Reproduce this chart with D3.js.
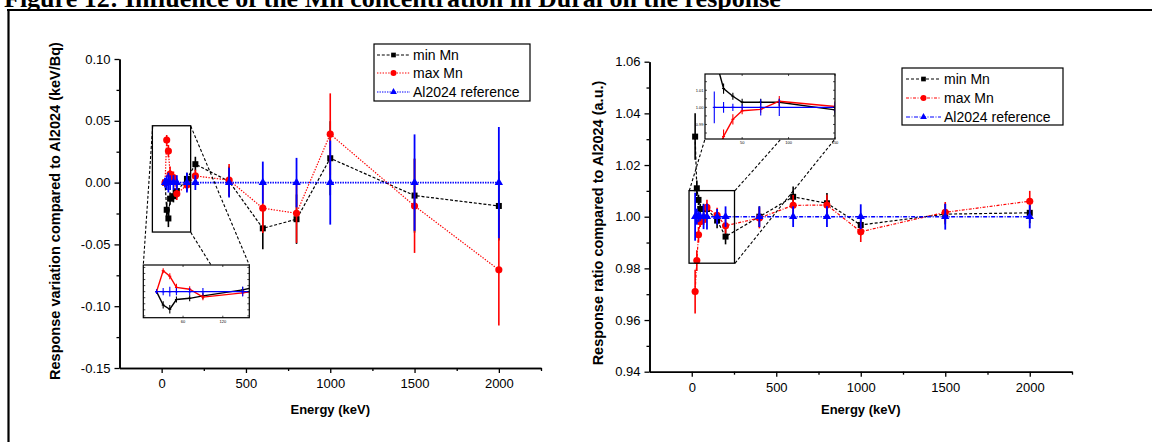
<!DOCTYPE html>
<html><head><meta charset="utf-8">
<script src="https://cdn.jsdelivr.net/npm/d3@7"></script>
<style>
body{margin:0;background:#fff}
svg{display:block}
text{font-family:Arial,"Liberation Sans",sans-serif;fill:#000}
</style>
</head><body>
<svg id="c" width="1152" height="442"></svg>
<script>
// ---------------- data ----------------
const energyKeV = [20,30,40,50,70,90,150,200,400,600,800,1000,1500,2000];
const seriesNames = ["min Mn","max Mn","Al2024 reference"];

const variationMinMn    = [0.000,-0.022,-0.029,-0.013,-0.011,-0.007,0.003,0.0149,0.001,-0.037,-0.0296,0.0197,-0.0105,-0.0189];
const variationMinMnErr = [0.003,0.006,0.007,0.005,0.005,0.005,0.005,0.006,0.012,0.017,0.020,0.030,0.030,0.028];
const variationMaxMn    = [0.000,0.0345,0.0255,0.007,0.004,-0.009,-0.002,0.0054,0.002,-0.0207,-0.0248,0.0392,-0.0189,-0.0706];
const variationMaxMnErr = [0.003,0.004,0.005,0.006,0.005,0.005,0.005,0.005,0.013,0.020,0.024,0.033,0.038,0.045];
const variationRef      = [0,0,0,0,0,0,0,0,0,0,0,0,0,0];
const variationRefErr   = [0.004,0.006,0.008,0.006,0.006,0.006,0.008,0.006,0.012,0.017,0.020,0.034,0.039,0.045];

const ratioMinMn    = [1.031,1.011,1.0065,1.003,1.003,1.003,0.9985,0.9923,1.000,1.0077,1.0052,0.9968,1.001,1.0015];
const ratioMinMnErr = [0.009,0.003,0.002,0.002,0.002,0.002,0.003,0.003,0.004,0.004,0.004,0.004,0.004,0.004];
const ratioMaxMn    = [0.971,0.983,0.993,0.998,0.9988,1.0036,1.0005,0.9965,0.9995,1.0044,1.0045,0.9942,1.0017,1.006];
const ratioMaxMnErr = [0.0085,0.004,0.003,0.002,0.002,0.003,0.003,0.003,0.004,0.004,0.004,0.004,0.004,0.004];
const ratioRef      = [1,1,1,1,1,1,1,1,1,1,1,1,1,1];
const ratioRefErr   = [0.0093,0.0031,0.0021,0.0016,0.0048,0.005,0.003,0.004,0.004,0.004,0.004,0.0048,0.005,0.0045];

const xTicks = [0,500,1000,1500,2000];
const xMinorTicks = [250,750,1250,1750,2250];
const variationTicks = [-0.15,-0.10,-0.05,0.00,0.05,0.10];
const variationMinorTicks = [-0.125,-0.075,-0.025,0.025,0.075];
const ratioTicks = [0.94,0.96,0.98,1.00,1.02,1.04,1.06];
const ratioMinorTicks = [0.95,0.97,0.99,1.01,1.03,1.05];
const leftInsetXTicks = [60,120];
const rightInsetXTicks = [50,100,150];
const rightInsetYTicks = [0.99,1.00,1.01];

const titleText = "Figure 12: Influence of the Mn concentration in Dural on the response";
const xLabel = "Energy (keV)";
const yLabelLeft = "Response variation compared to Al2024 (keV/Bq)";
const yLabelRight = "Response ratio compared to Al2024 (a.u.)";

// ---------------- drawing ----------------
const svg = d3.select("#c");
const colors = ["#000000","#ff0000","#0000ff"];
const symbols = [d3.symbolSquare, d3.symbolCircle, d3.symbolTriangle];

// title and page frame
svg.append("defs").append("clipPath").attr("id","titleclip")
  .append("rect").attr("x",0).attr("y",0).attr("width",1152).attr("height",9);
svg.append("text").attr("x",4).attr("y",7).attr("clip-path","url(#titleclip)")
  .style("font-family","'Liberation Serif','Times New Roman',serif").style("font-weight","bold")
  .style("font-size","26px").text(titleText);
svg.append("line").attr("x1",7).attr("x2",1152).attr("y1",10).attr("y2",10).attr("stroke","#000").attr("stroke-width",2.2);
svg.append("line").attr("x1",8.5).attr("x2",8.5).attr("y1",9).attr("y2",442).attr("stroke","#000").attr("stroke-width",2.2);

function drawPanel(o) {
  const g = svg.append("g");
  const x = d3.scaleLinear().domain([-250,2250]).range(o.xr);
  const y = d3.scaleLinear().domain(o.yd).range(o.yr);

  // axes
  const bottom = g.append("g").attr("transform",`translate(0,${o.yr[0]})`);
  bottom.call(d3.axisBottom(x).tickValues(xTicks).tickSize(5).tickSizeOuter(0).tickPadding(6).tickFormat(d=>String(d)));
  bottom.append("g").call(d3.axisBottom(x).tickValues(xMinorTicks).tickSize(3).tickSizeOuter(0).tickFormat(""));
  const left = g.append("g").attr("transform",`translate(${o.xr[0]},0)`);
  left.call(d3.axisLeft(y).tickValues(o.yTicks).tickSize(5).tickSizeOuter(0).tickPadding(4).tickFormat(d=>d.toFixed(2)));
  left.append("g").call(d3.axisLeft(y).tickValues(o.yMinor).tickSize(3).tickSizeOuter(0).tickFormat(""));
  g.selectAll(".domain").attr("stroke","#000").attr("stroke-width",1.6);
  g.selectAll(".tick line").attr("stroke","#000").attr("stroke-width",1.3);
  g.selectAll(".tick text").style("font-size","13px").style("font-family","Arial,'Liberation Sans',sans-serif").attr("fill","#000");

  // axis titles
  g.append("text").attr("x",(o.xr[0]+o.xr[1])/2).attr("y",414).attr("text-anchor","middle")
    .style("font-weight","bold").style("font-size","13px").text(xLabel);
  g.append("text").attr("transform",`translate(${o.ylx},${o.yly}) rotate(-90)`).attr("text-anchor","middle")
    .style("font-weight","bold").style("font-size","14.5px").text(o.ylabel);

  // series
  const series = o.series;
  series.forEach((s,i)=>{
    const pts = energyKeV.map((e,k)=>({e, v:s.v[k], err:s.err[k]}));
    g.append("path").datum(pts)
      .attr("d", d3.line().x(d=>x(d.e)).y(d=>y(d.v)))
      .attr("fill","none").attr("stroke",colors[i]).attr("stroke-width",i===2?1.6:1.2)
      .attr("stroke-dasharray",o.dashes[i]);
    g.append("g").selectAll("line").data(pts).join("line")
      .attr("x1",d=>x(d.e)).attr("x2",d=>x(d.e))
      .attr("y1",d=>y(d.v-d.err)).attr("y2",d=>y(d.v+d.err))
      .attr("stroke",colors[i]).attr("stroke-width",i===2?1.8:1.6);
    g.append("g").selectAll("path").data(pts).join("path")
      .attr("transform",d=>`translate(${x(d.e)},${y(d.v)})`)
      .attr("d", d3.symbol().type(symbols[i]).size([36,40,30][i]))
      .attr("fill",colors[i]);
  });

  // zoom box
  const zb = o.zoomBox;
  g.append("rect").attr("x",x(zb.x0)).attr("y",y(zb.y1))
    .attr("width",x(zb.x1)-x(zb.x0)).attr("height",y(zb.y0)-y(zb.y1))
    .attr("fill","none").attr("stroke","#000").attr("stroke-width",1.3);

  // inset
  const ins = o.inset;
  const ix = d3.scaleLinear().domain(ins.xd).range([ins.x0, ins.x1]);
  const iy = d3.scaleLinear().domain(ins.yd).range([ins.y1, ins.y0]);
  ins.connectors.forEach(c=>{
    g.append("line").attr("x1",c[0]).attr("y1",c[1]).attr("x2",c[2]).attr("y2",c[3])
      .attr("stroke","#000").attr("stroke-width",1.1).attr("stroke-dasharray","3,2");
  });
  g.append("rect").attr("x",ins.x0).attr("y",ins.y0).attr("width",ins.x1-ins.x0).attr("height",ins.y1-ins.y0)
    .attr("fill","#fff");
  const cid = "clip"+o.id;
  svg.select("defs").append("clipPath").attr("id",cid).append("rect")
    .attr("x",ins.x0).attr("y",ins.y0).attr("width",ins.x1-ins.x0).attr("height",ins.y1-ins.y0);
  const ig = g.append("g").attr("clip-path",`url(#${cid})`);
  series.forEach((s,i)=>{
    const pts = energyKeV.map((e,k)=>({e, v:s.v[k], err:s.err[k]}));
    ig.append("path").datum(pts)
      .attr("d", d3.line().x(d=>ix(d.e)).y(d=>iy(d.v)))
      .attr("fill","none").attr("stroke",colors[i]).attr("stroke-width",1.4);
    ig.append("g").selectAll("line").data(pts).join("line")
      .attr("x1",d=>ix(d.e)).attr("x2",d=>ix(d.e))
      .attr("y1",d=>iy(d.v-d.err)).attr("y2",d=>iy(d.v+d.err))
      .attr("stroke",colors[i]).attr("stroke-width",1.1);
    ig.append("g").selectAll("line").data(pts).join("line")
      .attr("x1",d=>ix(d.e)-1.5).attr("x2",d=>ix(d.e)+1.5)
      .attr("y1",d=>iy(d.v)).attr("y2",d=>iy(d.v))
      .attr("stroke",colors[i]).attr("stroke-width",1.1);
  });
  g.append("rect").attr("x",ins.x0).attr("y",ins.y0).attr("width",ins.x1-ins.x0).attr("height",ins.y1-ins.y0)
    .attr("fill","none").attr("stroke","#000").attr("stroke-width",1.2);
  ins.yTicks.forEach(v=>{
    g.append("line").attr("x1",ins.x0).attr("x2",ins.x0+2).attr("y1",iy(v)).attr("y2",iy(v)).attr("stroke","#000").attr("stroke-width",0.7);
    g.append("line").attr("x1",ins.x1).attr("x2",ins.x1-2).attr("y1",iy(v)).attr("y2",iy(v)).attr("stroke","#000").attr("stroke-width",0.7);
  });
  ins.yLabels.forEach(v=>{
    g.append("text").attr("x",ins.x0-1.5).attr("y",iy(v)+1.3).attr("text-anchor","end")
      .style("font-size","4px").text(v.toFixed(2));
  });
  ins.xTicks.forEach(v=>{
    g.append("line").attr("x1",ix(v)).attr("x2",ix(v)).attr("y1",ins.y1).attr("y2",ins.y1-2).attr("stroke","#000").attr("stroke-width",0.7);
    g.append("line").attr("x1",ix(v)).attr("x2",ix(v)).attr("y1",ins.y0).attr("y2",ins.y0+2).attr("stroke","#000").attr("stroke-width",0.7);
    g.append("text").attr("x",ix(v)).attr("y",ins.y1+5).attr("text-anchor","middle")
      .style("font-size","4px").text(String(v));
  });

  // legend
  const L = o.legend;
  g.append("rect").attr("x",L.x0).attr("y",L.y0).attr("width",L.x1-L.x0).attr("height",L.y1-L.y0)
    .attr("fill","#fff").attr("stroke","#000").attr("stroke-width",1.2);
  seriesNames.forEach((nm,i)=>{
    const yy = L.rows[i];
    g.append("line").attr("x1",L.lx0).attr("x2",L.lx1).attr("y1",yy).attr("y2",yy)
      .attr("stroke",colors[i]).attr("stroke-width",1.1).attr("stroke-dasharray",o.dashes[i]);
    g.append("path").attr("transform",`translate(${(L.lx0+L.lx1)/2},${yy})`)
      .attr("d",d3.symbol().type(symbols[i]).size([22,28,20][i])).attr("fill",colors[i]);
    g.append("text").attr("x",L.tx).attr("y",yy+5).style("font-size","14px").text(nm);
  });
}

drawPanel({
  id:"L",
  xr:[119.5,541], yd:[-0.15,0.10], yr:[368,59],
  yTicks:variationTicks, yMinor:variationMinorTicks,
  ylabel:yLabelLeft, ylx:59.5, yly:211,
  dashes:["3,1.8","1.4,1.4","1.4,1.1"],
  series:[{v:variationMinMn,err:variationMinMnErr},{v:variationMaxMn,err:variationMaxMnErr},{v:variationRef,err:variationRefErr}],
  zoomBox:{x0:-55,x1:172,y0:-0.040,y1:0.046},
  inset:{x0:143.3,x1:249.3,y0:265,y1:317.7,xd:[0,160],yd:[-0.043,0.044],
    yTicks:[-0.04,-0.03,-0.02,-0.01,0,0.01,0.02,0.03,0.04], yLabels:[], xTicks:leftInsetXTicks,
    connectors:[[152.7,126,143.3,265],[190.7,126,249.3,265],[190.7,232.3,211,265]]},
  legend:{x0:374,y0:44,x1:530,y1:101,rows:[55,73,92],lx0:377,lx1:410,tx:413}
});

drawPanel({
  id:"R",
  xr:[649.5,1072], yd:[0.94,1.06], yr:[371.7,61.7],
  yTicks:ratioTicks, yMinor:ratioMinorTicks,
  ylabel:yLabelRight, ylx:603, yly:223,
  dashes:["3,2","3,1.5,1,1.5","4,1.5,1,1.5"],
  series:[{v:ratioMinMn,err:ratioMinMnErr},{v:ratioMaxMn,err:ratioMaxMnErr},{v:ratioRef,err:ratioRefErr}],
  zoomBox:{x0:-16,x1:253,y0:0.982,y1:1.0101},
  inset:{x0:705,x1:835,y0:74,y1:139,xd:[10,150],yd:[0.9815,1.0195],
    yTicks:[0.985,0.99,0.995,1.0,1.005,1.01,1.015], yLabels:rightInsetYTicks, xTicks:rightInsetXTicks,
    connectors:[[689.3,190.7,705,139],[735,190.7,781,139],[735,263.3,835,139]]},
  legend:{x0:902,y0:68,x1:1063,y1:125,rows:[79,98,117],lx0:906,lx1:941,tx:944}
});
</script>
</body></html>
